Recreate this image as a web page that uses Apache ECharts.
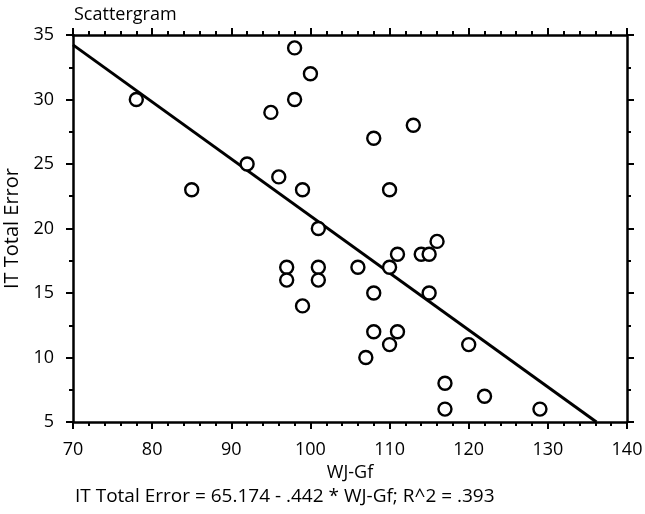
<!DOCTYPE html>
<html>
<head>
<meta charset="utf-8">
<script src="https://cdn.jsdelivr.net/npm/echarts@6/dist/echarts.min.js"></script>
<style>
  html, body { margin: 0; padding: 0; background: #fff; }
  #chart { width: 645px; height: 514px; }
</style>
</head>
<body>
<div id="chart"></div>
<script>
// WJ-Gf scores and matching IT Total Error
var wjGf = [78, 85, 92, 95, 96, 97, 97, 98, 98, 99, 99, 100, 101, 101, 101,
  106, 107, 108, 108, 108, 110, 110, 110, 111, 111, 113, 114, 115, 115, 116,
  117, 117, 120, 122, 129];
var itError = [30, 23, 25, 29, 24, 17, 16, 34, 30, 23, 14, 32, 20, 17, 16,
  17, 10, 27, 15, 12, 23, 17, 11, 18, 12, 28, 18, 18, 15, 19,
  8, 6, 11, 7, 6];
// regression from the caption
var intercept = 65.174;
var slope = -0.442;
var xTicks = [70, 80, 90, 100, 110, 120, 130, 140];
var yTicks = [5, 10, 15, 20, 25, 30, 35];

var points = wjGf.map(function (x, i) { return [x, itError[i]]; });
var xStart = xTicks[0];
var xEnd = (yTicks[0] - intercept) / slope;
var fitLine = [[xStart, intercept + slope * xStart], [xEnd, intercept + slope * xEnd]];

var font = "'Open Sans', 'DejaVu Sans', sans-serif";
var axisCommon = {
  type: "value",
  axisLine: { show: true, lineStyle: { color: "#000", width: 2.5 } },
  axisTick: { show: true, length: 7, lineStyle: { color: "#000", width: 2 } },
  minorTick: { show: true, length: 4, lineStyle: { color: "#000", width: 2 } },
  splitLine: { show: false }
};

var chart = echarts.init(document.getElementById("chart"));
chart.setOption({
  animation: false,
  backgroundColor: "#fff",
  grid: { left: 73, right: 18, top: 35, bottom: 92, outerBoundsMode: "none" },
  title: {
    text: "Scattergram",
    left: 69, top: 1,
    textStyle: { fontFamily: font, fontSize: 18, fontWeight: "normal", color: "#000" }
  },
  graphic: [{
    type: "text", left: 75, top: 487,
    style: {
      text: "IT Total Error = 65.174 - .442 * WJ-Gf; R^2 = .393",
      font: "19px " + font, fill: "#000"
    }
  }],
  xAxis: [
    Object.assign({}, axisCommon, {
      min: xTicks[0], max: xTicks[xTicks.length - 1], interval: 10,
      minorTick: Object.assign({}, axisCommon.minorTick, { splitNumber: 5 }),
      name: "WJ-Gf", nameLocation: "middle", nameGap: 40,
      nameTextStyle: { fontFamily: font, fontSize: 18, color: "#000" },
      axisLabel: { fontFamily: font, fontSize: 18, color: "#000", margin: 19 }
    }),
    Object.assign({}, axisCommon, {
      position: "top",
      min: xTicks[0], max: xTicks[xTicks.length - 1], interval: 10,
      minorTick: Object.assign({}, axisCommon.minorTick, { splitNumber: 5 }),
      axisLabel: { show: false }
    })
  ],
  yAxis: [
    Object.assign({}, axisCommon, {
      min: yTicks[0], max: yTicks[yTicks.length - 1], interval: 5,
      minorTick: Object.assign({}, axisCommon.minorTick, { splitNumber: 2 }),
      name: "IT Total Error", nameLocation: "middle", nameGap: 40,
      nameTextStyle: { fontFamily: font, fontSize: 20, color: "#000" },
      axisLabel: { fontFamily: font, fontSize: 18, color: "#000", margin: 19 }
    }),
    Object.assign({}, axisCommon, {
      position: "right",
      min: yTicks[0], max: yTicks[yTicks.length - 1], interval: 5,
      minorTick: Object.assign({}, axisCommon.minorTick, { splitNumber: 2 }),
      axisLabel: { show: false }
    })
  ],
  series: [
    {
      type: "line",
      data: fitLine,
      symbol: "none",
      lineStyle: { color: "#000", width: 3 },
      z: 2
    },
    {
      type: "scatter",
      data: points,
      symbol: "circle",
      symbolSize: 13,
      itemStyle: { color: "#fff", borderColor: "#000", borderWidth: 2.4, opacity: 1 },
      z: 3
    }
  ]
});
</script>
</body>
</html>
